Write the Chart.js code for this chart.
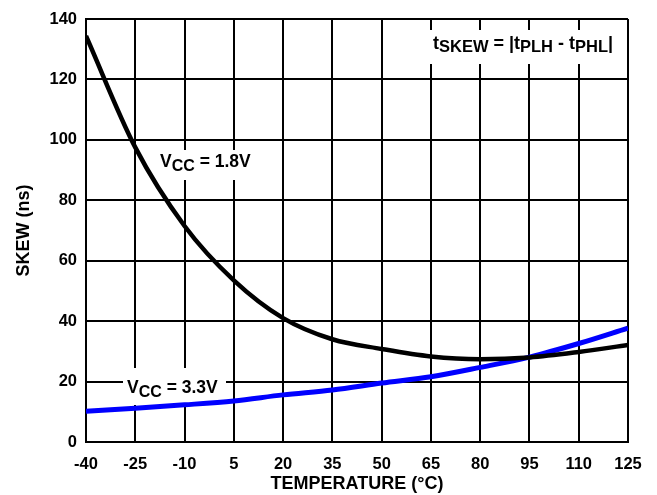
<!DOCTYPE html>
<html>
<head>
<meta charset="utf-8">
<script src="https://cdn.jsdelivr.net/npm/chart.js@4/dist/chart.umd.min.js"></script>
<style>
  html, body { margin: 0; padding: 0; background: #fff; }
  #wrap { width: 657px; height: 495px; }
</style>
</head>
<body>
<div id="wrap"><canvas id="skewChart" width="657" height="495"></canvas></div>
<script>
// --- data ---
const temps = [-40, -25, -10, 5, 20, 35, 50, 65, 80, 95, 110, 125];
const skew18 = [134.4, 97.5, 71.5, 53.5, 41, 34, 30.8, 28.3, 27.4, 28, 29.8, 32.1];
const skew33 = [10.2, 11.2, 12.3, 13.6, 15.6, 17.2, 19.5, 21.6, 24.7, 28.1, 32.6, 37.7];
const xTicks = [-40, -25, -10, 5, 20, 35, 50, 65, 80, 95, 110, 125];
const yTicks = [0, 20, 40, 60, 80, 100, 120, 140];

const FONT = '"Liberation Sans", Arial, sans-serif';

function pts(ys) {
    return temps.map((t, i) => ({ x: t, y: ys[i] }));
}

// text with subscripts, parts = [[text, isSub], ...]
function drawParts(ctx, parts, x, y, size, subSize, drop, weight) {
    let cx = x;
    parts.forEach(p => {
        const sub = p[1];
        ctx.font = weight + ' ' + (sub ? subSize : size) + 'px ' + FONT;
        ctx.fillText(p[0], cx, sub ? y + drop : y);
        cx += ctx.measureText(p[0]).width;
    });
}

const labelPlugin = {
    id: 'labels',
    beforeDatasetsDraw(chart) {
        const ctx = chart.ctx;
        ctx.save();
        // white boxes that break the grid behind the notes
        ctx.fillStyle = '#fff';
        ctx.fillRect(155, 150, 106, 30);
        ctx.fillRect(123, 368, 103, 37);
        ctx.fillRect(430, 30, 194, 34);
        ctx.fillStyle = '#000';
        ctx.textBaseline = 'alphabetic';
        drawParts(ctx, [['V', false], ['CC', true], [' = 1.8V', false]], 160, 167, 17.5, 16, 4, 'bold');
        drawParts(ctx, [['V', false], ['CC', true], [' = 3.3V', false]], 127, 393, 17.5, 16, 4, 'bold');
        drawParts(ctx, [['t', false], ['SKEW', true], [' = |t', false], ['PLH', true], [' - t', false], ['PHL', true], ['|', false]], 433, 49, 18, 16.5, 3, 'bold');
        ctx.restore();
    }
};

new Chart(document.getElementById('skewChart'), {
    type: 'scatter',
    data: {
        datasets: [
            { label: 'VCC = 1.8V', data: pts(skew18), showLine: true, borderColor: '#000', borderWidth: 4.5, pointRadius: 0, cubicInterpolationMode: 'monotone' },
            { label: 'VCC = 3.3V', data: pts(skew33), showLine: true, borderColor: '#0000ff', borderWidth: 5, pointRadius: 0, cubicInterpolationMode: 'monotone' }
        ]
    },
    options: {
        responsive: false,
        animation: false,
        layout: { padding: { top: 19, right: 29, left: 13, bottom: 0 } },
        plugins: { legend: { display: false }, tooltip: { enabled: false } },
        scales: {
            x: {
                type: 'linear', min: -40, max: 125,
                afterBuildTicks: s => { s.ticks = xTicks.map(v => ({ value: v })); },
                afterFit: s => { s.height = 53; },
                grid: { color: '#000', lineWidth: 2, drawTicks: false },
                border: { color: '#000', width: 2 },
                ticks: { color: '#000', padding: 13, font: { family: FONT, size: 16.5, weight: 'bold' }, maxRotation: 0 },
                title: { display: true, text: 'TEMPERATURE (°C)', color: '#000', padding: 0, font: { family: FONT, size: 18, weight: 'bold' } }
            },
            y: {
                min: 0, max: 140,
                afterBuildTicks: s => { s.ticks = yTicks.map(v => ({ value: v })); },
                afterFit: s => { s.width = 73; },
                grid: { color: '#000', lineWidth: 2, drawTicks: false },
                border: { color: '#000', width: 2 },
                ticks: { color: '#000', padding: 9, font: { family: FONT, size: 16.5, weight: 'bold' } },
                title: { display: true, text: 'SKEW (ns)', color: '#000', padding: 0, font: { family: FONT, size: 18, weight: 'bold' } }
            }
        }
    },
    plugins: [labelPlugin]
});
</script>
</body>
</html>
